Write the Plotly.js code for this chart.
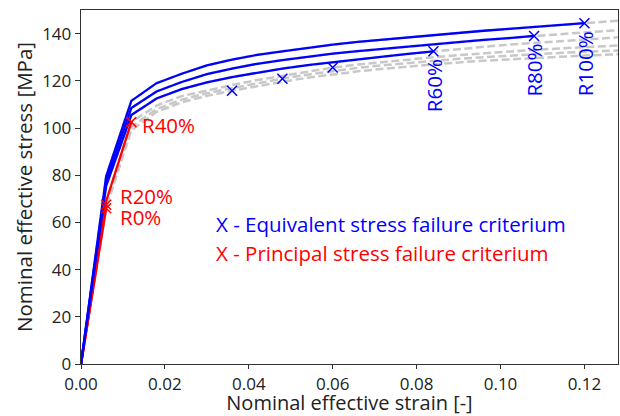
<!DOCTYPE html>
<html><head><meta charset="utf-8">
<script src="https://cdn.plot.ly/plotly-3.0.1.min.js"></script>
<style>html,body{margin:0;padding:0;background:#fff}</style>
</head><body><div id="chart" style="width:620px;height:416px"></div>
<script>
// Strain grid shared by all curves
const strain = [0,0.006,0.012,0.018,0.024,0.030,0.036,0.042,0.048,0.054,0.060,0.066,0.072,0.078,0.084,0.090,0.096,0.102,0.108,0.114,0.120,0.126,0.132];
// Stress curves [MPa] for each R level
const stressR0   = [0,66,99,106.8,110.9,113.6,115.8,117.8,119.6,121.3,122.8,124,125.1,126.1,127,127.8,128.5,129.1,129.7,130.2,130.7,131.1,131.5];
const stressR20  = [0,67.5,100.5,108,112,114.7,116.9,119,120.9,122.6,124.2,125.5,126.6,127.6,128.5,129.3,130,130.7,131.3,131.8,132.3,132.7,133.1];
const stressR40  = [0,69,102.5,109.5,113.5,116,118.2,120.3,122.1,123.9,125.6,126.9,128,129,130,130.9,131.7,132.4,133.1,133.7,134.3,134.8,135.3];
const stressR60  = [0,75.5,105.5,112.5,116.5,119.3,121.6,123.5,125.2,126.6,127.9,129.1,130.2,131.4,132.5,133.5,134.4,135.3,136.1,136.8,137.5,138.2,138.9];
const stressR80  = [0,77.5,108.5,115.5,119.5,122.8,125.2,127.2,128.8,130.2,131.5,132.6,133.6,134.6,135.5,136.4,137.3,138.1,139,139.8,140.5,141.2,141.9];
const stressR100 = [0,79.5,111.5,119,123,126.5,129,131,132.5,134,135.3,136.5,137.5,138.5,139.4,140.3,141.2,142,142.8,143.6,144.4,145.2,146];

// Equivalent stress failure points (blue X)
const eqLabels = ["R0%","R20%","R40%","R60%","R80%","R100%"];
const eqStrain = [0.036,0.048,0.060,0.084,0.108,0.120];
const eqStress = [115.8,120.9,125.6,132.5,139.0,144.4];
// Principal stress failure points (red X)
const prLabels = ["R0%","R20%","R40%"];
const prStrain = [0.006,0.006,0.012];
const prStress = [66,67.5,102.5];

const curves = [stressR0,stressR20,stressR40,stressR60,stressR80,stressR100];
const traces = [];
// gray dashed full curves
curves.forEach(c => traces.push({x:strain,y:c,mode:'lines',type:'scatter',
  line:{color:'#c8c8c8',width:2.5,dash:'8px,3.5px'},hoverinfo:'skip',showlegend:false}));
// solid curves up to failure: red for R0-R40 (principal), blue for R60-R100 (equivalent)
function upTo(c, e){ const xs=[],ys=[]; strain.forEach((s,i)=>{ if(s<=e+1e-9){xs.push(s);ys.push(c[i]);} }); return {xs,ys}; }
[0,1,2].forEach(i=>{ const u=upTo(curves[i],prStrain[i]);
  traces.push({x:u.xs,y:u.ys,mode:'lines',type:'scatter',line:{color:'#ff0000',width:2.3},showlegend:false}); });
[3,4,5].forEach(i=>{ const u=upTo(curves[i],eqStrain[i]);
  traces.push({x:u.xs,y:u.ys,mode:'lines',type:'scatter',line:{color:'#0000ff',width:2.3},showlegend:false}); });
traces.push({x:eqStrain,y:eqStress,mode:'markers',type:'scatter',
  marker:{symbol:'x-thin-open',size:10,color:'#0000ff',line:{color:'#0000ff',width:1.5}},showlegend:false});
traces.push({x:prStrain,y:prStress,mode:'markers',type:'scatter',
  marker:{symbol:'x-thin-open',size:10,color:'#ff0000',line:{color:'#ff0000',width:1.5}},showlegend:false});

const F = 'Open Sans, Noto Sans, DejaVu Sans, sans-serif';
const FS = 20.5;
const ann = [];
// rotated labels for blue failure points
[3,4,5].forEach(i=>ann.push({x:eqStrain[i],y:eqStress[i],xref:'x',yref:'y',text:eqLabels[i],showarrow:false,
  textangle:-90,xanchor:'center',yanchor:'top',yshift:-6,font:{family:F,size:FS,color:'#0000ff'}}));
ann.push({x:0.0140,y:101.4,xref:'x',yref:'y',text:'R40%',showarrow:false,xanchor:'left',yanchor:'middle',font:{family:F,size:FS,color:'#ff0000'}});
ann.push({x:0.0088,y:71.2,xref:'x',yref:'y',text:'R20%',showarrow:false,xanchor:'left',yanchor:'middle',font:{family:F,size:FS,color:'#ff0000'}});
ann.push({x:0.0088,y:62.1,xref:'x',yref:'y',text:'R0%',showarrow:false,xanchor:'left',yanchor:'middle',font:{family:F,size:FS,color:'#ff0000'}});
ann.push({x:0.0317,y:59.2,xref:'x',yref:'y',text:'X - Equivalent stress failure criterium',showarrow:false,xanchor:'left',yanchor:'middle',font:{family:F,size:FS,color:'#0000ff'}});
ann.push({x:0.0317,y:46.9,xref:'x',yref:'y',text:'X - Principal stress failure criterium',showarrow:false,xanchor:'left',yanchor:'middle',font:{family:F,size:FS,color:'#ff0000'}});

const layout = {
  width:620,height:416,margin:{l:81,r:2,t:10,b:52},
  paper_bgcolor:'#fff',plot_bgcolor:'#fff',showlegend:false,
  font:{family:F,size:17,color:'#222'},
  xaxis:{range:[0,0.128],tickvals:[0,0.02,0.04,0.06,0.08,0.10,0.12],tickformat:'.2f',automargin:false,
    showgrid:false,zeroline:false,showline:true,linecolor:'#333',linewidth:1.3,mirror:true,
    ticks:'outside',ticklen:4,tickcolor:'#333',tickfont:{size:17,color:'#222'},
    title:{text:'Nominal effective strain [-]',font:{size:20,color:'#222'},standoff:4}},
  yaxis:{range:[0,150],tickvals:[0,20,40,60,80,100,120,140],automargin:false,
    showgrid:false,zeroline:false,showline:true,linecolor:'#333',linewidth:1.3,mirror:true,
    ticks:'outside',ticklen:5,tickcolor:'#333',tickfont:{size:17,color:'#222'},
    title:{text:'Nominal effective stress [MPa]',font:{size:20.5,color:'#222'},standoff:4}},
  annotations:ann
};
Plotly.newPlot('chart',traces,layout,{displayModeBar:false,staticPlot:true});
</script></body></html>
